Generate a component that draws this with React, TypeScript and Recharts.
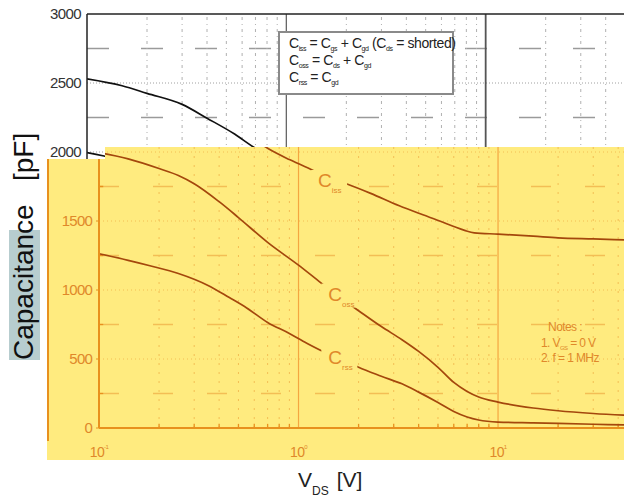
import React from 'react';
import { LineChart, Line, XAxis, YAxis, ReferenceLine, ReferenceDot } from 'recharts';

// values (V_DS in volts, capacitance in pF)
const cissVolts = [0.1, 0.15, 0.2, 0.3, 0.4, 0.55, 0.7, 0.9, 1.15, 1.45, 1.75, 2.3, 3.2, 4.2, 5.1, 6.0, 6.8, 7.6, 10, 15, 20, 30, 50];
const cissPf = [2530, 2480, 2425, 2345, 2245, 2130, 2027, 1945, 1875, 1810, 1768, 1700, 1610, 1545, 1500, 1460, 1432, 1414, 1405, 1390, 1378, 1370, 1360];

const cossVolts = [0.1, 0.14, 0.2, 0.25, 0.3, 0.4, 0.5, 0.7, 1.0, 1.3, 1.6, 2.0, 2.6, 3.3, 4.0, 5.0, 6.0, 7.0, 8.0, 10, 15, 20, 30, 50];
const cossPf = [1995, 1950, 1880, 1830, 1770, 1640, 1525, 1345, 1180, 1050, 950, 850, 735, 640, 555, 440, 330, 265, 225, 188, 145, 125, 105, 88];

const crssVolts = [0.1, 0.14, 0.18, 0.25, 0.35, 0.45, 0.55, 0.7, 0.9, 1.1, 1.35, 1.7, 2.0, 2.6, 3.3, 4.0, 5.0, 6.0, 7.0, 8.0, 10, 15, 20, 30, 50];
const crssPf = [1263, 1215, 1176, 1120, 1035, 945, 870, 765, 685, 615, 550, 490, 440, 375, 320, 260, 185, 120, 80, 58, 43, 37, 33, 27, 20];

const decadeVolts = [0.1, 1, 10];
const minorVolts = [0.2, 0.3, 0.4, 0.5, 0.6, 0.7, 0.8, 0.9, 2, 3, 4, 5, 6, 7, 8, 9, 20, 30, 40];
// the white (original) part shows the upper tick labels, the yellow panel the lower ones
const upperCapTicks = [2000, 2500, 3000];
const lowerCapTicks = [0, 500, 1000, 1500];
const dashedCaps = [250, 750, 1250, 1750, 2250, 2750];
const dottedCaps = [500, 1000, 1500, 2000, 2500];

// curve labels: [V_DS, pF, name, subscript]
const curveLabels: [number, number, string, string][] = [
  [1.44, 1790, 'C', 'iss'],
  [1.62, 967, 'C', 'oss'],
  [1.62, 505, 'C', 'rss'],
];

const rows = (v: number[], c: number[]) => v.map((x, i) => ({ v: x, c: c[i] }));
const ciss = rows(cissVolts, cissPf);
const coss = rows(cossVolts, cossPf);
const crss = rows(crssVolts, crssPf);

const FONT = '"Liberation Sans", Arial, sans-serif';
const YELLOW = '#FFEB7F';
const ORANGE = '#E8911E';
const ORANGE_TEXT = '#E0882A';
const ORANGE_GRID = '#F3BE55';
const BROWN = '#A4470C';

function WhitePlot() {
  return (
    <LineChart width={640} height={499} margin={{ top: 14, right: 15, bottom: 71, left: 47 }}>
      <XAxis type="number" dataKey="v" scale="log" domain={[0.1, 50]} ticks={decadeVolts} hide allowDataOverflow />
      <YAxis
        type="number"
        domain={[0, 3000]}
        ticks={upperCapTicks}
        interval={0}
        width={40}
        axisLine={{ stroke: '#222', strokeWidth: 1.5 }}
        tickLine={false}
        tickSize={3}
        tickMargin={3}
        tick={{ fontSize: 15, fill: '#333', fontFamily: FONT, letterSpacing: -0.6 }}
      />
      {dashedCaps.map((c) => (
        <ReferenceLine key={'d' + c} y={c} stroke="#9a9a9a" strokeWidth={1.5} strokeDasharray="22 32" />
      ))}
      {dottedCaps.map((c) => (
        <ReferenceLine key={'o' + c} y={c} stroke="#a0a0a0" strokeDasharray="1 2" />
      ))}
      {minorVolts.map((v) => (
        <ReferenceLine key={'m' + v} x={v} stroke="#b0b0b0" strokeDasharray="3 4 1 4" />
      ))}
      <ReferenceLine x={1} stroke="#666" strokeWidth={1.3} />
      <ReferenceLine x={10} stroke="#555" strokeWidth={1.8} />
      <ReferenceLine y={3000} stroke="#222" strokeWidth={1.5} />
      <Line data={ciss} dataKey="c" type="monotone" stroke="#111" strokeWidth={1.7} dot={false} isAnimationActive={false} />
      <Line data={coss} dataKey="c" type="monotone" stroke="#111" strokeWidth={1.7} dot={false} isAnimationActive={false} />
      <Line data={crss} dataKey="c" type="monotone" stroke="#111" strokeWidth={1.7} dot={false} isAnimationActive={false} />
    </LineChart>
  );
}

const DecadeTick = ({ x, y, payload }: any) => {
  const exp = Math.round(Math.log10(payload.value));
  return (
    <text x={x} y={y} dy={23} textAnchor="middle" fill={ORANGE_TEXT} fontSize={14} fontFamily={FONT} letterSpacing={-0.6}>
      10
      <tspan dy={-8} fontSize={6}>
        {exp}
      </tspan>
    </text>
  );
};

const CurveLabel = ({ cx, cy, name, sub }: any) => (
  <g>
    <rect x={cx - 19} y={cy - 11} width={36} height={24} fill={YELLOW} />
    <text x={cx - 12} y={cy + 6} fill={ORANGE_TEXT} fontSize={19} fontFamily={FONT}>
      {name}
      <tspan dy={6} fontSize={8}>
        {sub}
      </tspan>
    </text>
  </g>
);

function YellowPlot() {
  return (
    <LineChart width={650} height={499} margin={{ top: 14, right: 12.5, bottom: 41, left: 59 }}>
      <XAxis
        type="number"
        dataKey="v"
        scale="log"
        domain={[0.1, 50]}
        ticks={decadeVolts}
        interval={0}
        height={30}
        allowDataOverflow
        axisLine={{ stroke: ORANGE, strokeWidth: 2 }}
        tickLine={false}
        tickSize={0}
        tickMargin={6}
        tick={<DecadeTick />}
      />
      <YAxis
        type="number"
        domain={[0, 3000]}
        ticks={lowerCapTicks}
        interval={0}
        width={40}
        axisLine={{ stroke: ORANGE, strokeWidth: 2 }}
        tickLine={{ stroke: ORANGE }}
        tickSize={3}
        tickMargin={4}
        tick={{ fontSize: 15, fill: ORANGE_TEXT, fontFamily: FONT, letterSpacing: -0.8 }}
      />
      {dashedCaps.map((c) => (
        <ReferenceLine key={'d' + c} y={c} stroke={ORANGE_GRID} strokeWidth={1.4} strokeDasharray="20 34" />
      ))}
      {dottedCaps.map((c) => (
        <ReferenceLine key={'o' + c} y={c} stroke={ORANGE_GRID} strokeDasharray="1 3" />
      ))}
      {minorVolts.map((v) => (
        <ReferenceLine key={'m' + v} x={v} stroke={ORANGE_GRID} strokeDasharray="2 7" />
      ))}
      {minorVolts.map((v) => (
        <ReferenceLine key={'t' + v} segment={[{ x: v, y: 0 }, { x: v, y: 30 }]} stroke={ORANGE} strokeWidth={1.3} />
      ))}
      {dashedCaps.map((c) => (
        <ReferenceLine key={'yt' + c} segment={[{ x: 0.1, y: c }, { x: 0.105, y: c }]} stroke={ORANGE} strokeWidth={1.3} />
      ))}
      <ReferenceLine x={1} stroke="#F4A640" strokeWidth={1.2} />
      <ReferenceLine x={10} stroke="#F4A640" strokeWidth={1.2} />
      <Line data={ciss} dataKey="c" type="monotone" stroke={BROWN} strokeWidth={1.7} dot={false} isAnimationActive={false} />
      <Line data={coss} dataKey="c" type="monotone" stroke={BROWN} strokeWidth={1.7} dot={false} isAnimationActive={false} />
      <Line data={crss} dataKey="c" type="monotone" stroke={BROWN} strokeWidth={1.7} dot={false} isAnimationActive={false} />
      {curveLabels.map(([v, c, name, sub]) => (
        <ReferenceDot key={sub} x={v} y={c} shape={(p: any) => <CurveLabel {...p} name={name} sub={sub} />} />
      ))}
    </LineChart>
  );
}

const abs: React.CSSProperties = { position: 'absolute', left: 0, top: 0 };

export default function App() {
  return (
    <div style={{ ...abs, width: 624, height: 499, background: '#fff', overflow: 'hidden', fontFamily: FONT }}>
      <div style={abs}>
        <WhitePlot />
      </div>

      {/* formula box in the white part */}
      <svg style={{ ...abs, pointerEvents: 'none' }} width={624} height={499}>
        <rect x={279} y={32} width={174} height={62} fill="#fff" stroke="#8a8a8a" strokeWidth={2} />
        <g fontFamily={FONT} fill="#222" fontSize={14} letterSpacing={-0.4}>
          <text x={289} y={48}>
            C<tspan dy={2.5} fontSize={7}>iss</tspan>
            <tspan dy={-2.5}> = C</tspan>
            <tspan dy={2.5} fontSize={7}>gs</tspan>
            <tspan dy={-2.5}> + C</tspan>
            <tspan dy={2.5} fontSize={7}>gd</tspan>
            <tspan dy={-2.5}> (C</tspan>
            <tspan dy={2.5} fontSize={7}>ds</tspan>
            <tspan dy={-2.5}> = shorted)</tspan>
          </text>
          <text x={289} y={65}>
            C<tspan dy={2.5} fontSize={7}>oss</tspan>
            <tspan dy={-2.5}> = C</tspan>
            <tspan dy={2.5} fontSize={7}>ds</tspan>
            <tspan dy={-2.5}> + C</tspan>
            <tspan dy={2.5} fontSize={7}>gd</tspan>
          </text>
          <text x={289} y={82}>
            C<tspan dy={2.5} fontSize={7}>rss</tspan>
            <tspan dy={-2.5}> = C</tspan>
            <tspan dy={2.5} fontSize={7}>gd</tspan>
          </text>
        </g>
      </svg>

      {/* yellow pasted panel */}
      <div
        style={{
          ...abs,
          width: 624,
          height: 499,
          background: YELLOW,
          overflow: 'hidden',
          clipPath: 'polygon(47px 159px, 105px 159px, 105px 147px, 624px 147px, 624px 460px, 47px 460px)',
        }}
      >
        <div style={abs}>
          <YellowPlot />
        </div>
        <div style={{ position: 'absolute', left: 47, top: 159, width: 2, height: 282, background: ORANGE }} />
      </div>

      <svg style={{ ...abs, pointerEvents: 'none' }} width={624} height={499}>
        <g fontFamily={FONT} fill={ORANGE_TEXT} fontSize={12} letterSpacing={-0.6}>
          <text x={565} y={331} textAnchor="middle">Notes :</text>
          <text x={541} y={347}>
            1. V<tspan dy={3} fontSize={6}>GS</tspan>
            <tspan dy={-3}> = 0 V</tspan>
          </text>
          <text x={541} y={362}>2. f = 1 MHz</text>
        </g>

        <rect x={9} y={230} width={31} height={130} fill="#B7CDCF" />
        <text transform="translate(33,360) rotate(-90)" fontFamily={FONT} fontSize={28} fill="#111">
          Capacitance
        </text>
        <text transform="translate(33,181) rotate(-90)" fontFamily={FONT} fontSize={28} fill="#111">
          [pF]
        </text>

        <text x={298} y={487} fontFamily={FONT} fontSize={21} fill="#222">
          V<tspan dy={8} fontSize={12}>DS</tspan>
          <tspan dy={-8} dx={8}>[V]</tspan>
        </text>
      </svg>
    </div>
  );
}
